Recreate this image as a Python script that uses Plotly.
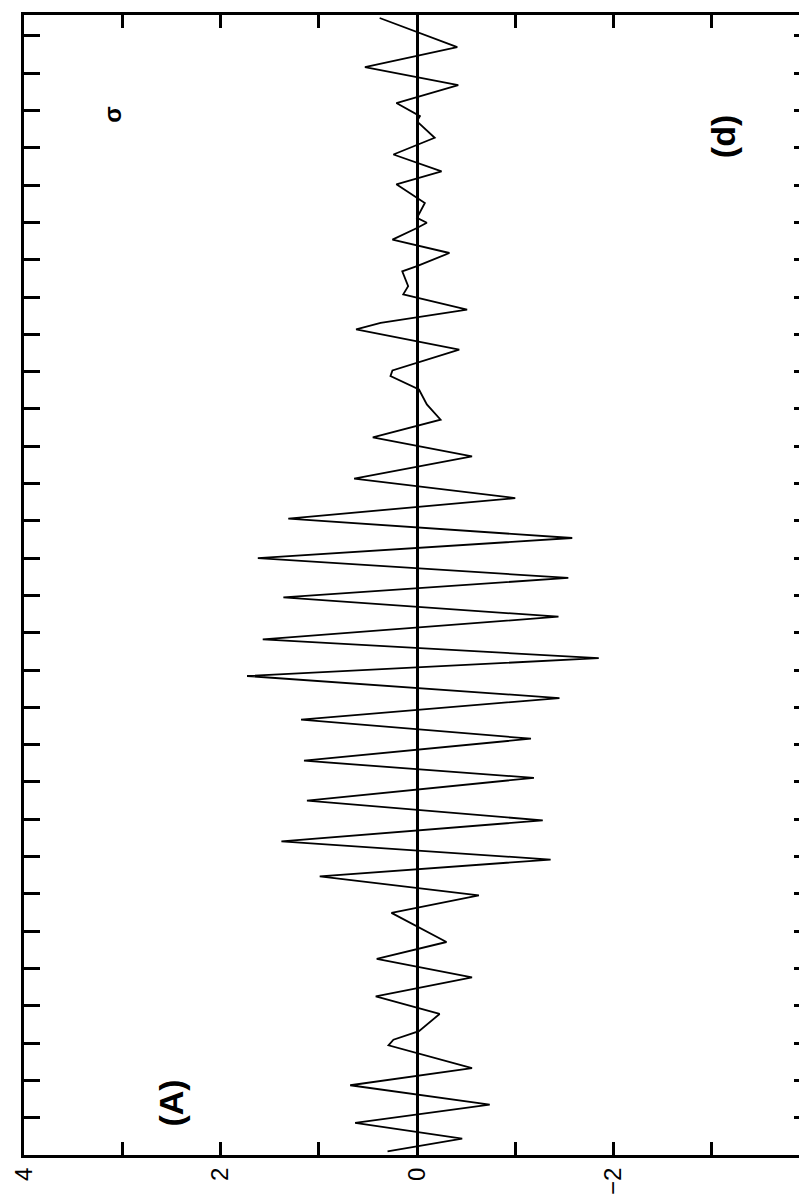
import plotly.graph_objects as go

# time axis (vertical, tick every 1 unit) and signal values (horizontal)
time = [0.10, 0.44, 0.86, 1.35, 1.87, 2.33, 2.94, 3.09, 3.32, 3.78,
        4.25, 4.76, 5.26, 5.71, 6.49, 6.96, 7.47, 7.92, 8.41, 8.97,
        9.50, 10.11, 10.57, 11.16, 11.67, 12.25, 12.84, 13.32, 13.82, 14.43,
        14.95, 15.47, 16.00, 16.54, 17.06, 17.61, 18.13, 18.73, 19.24, 19.71,
        20.12, 20.52, 20.88, 21.03, 21.59, 22.13, 22.31, 22.66, 23.07, 23.29,
        23.69, 23.83, 24.18, 24.54, 24.85, 24.99, 25.12, 25.52, 26.02, 26.37,
        26.82, 27.27, 27.71, 27.85, 28.20, 28.68, 29.16, 29.70, 30.48]
signal = [0.30, -0.46, 0.63, -0.74, 0.68, -0.56, 0.29, 0.24, -0.02, -0.23,
          0.42, -0.56, 0.41, -0.30, 0.26, -0.63, 0.99, -1.36, 1.38, -1.28,
          1.12, -1.19, 1.15, -1.16, 1.18, -1.45, 1.73, -1.85, 1.57, -1.44,
          1.36, -1.54, 1.62, -1.58, 1.31, -1.00, 0.64, -0.56, 0.45, -0.24,
          -0.10, -0.02, 0.27, 0.25, -0.43, 0.62, 0.37, -0.51, 0.14, 0.09,
          0.15, 0.00, -0.33, 0.25, 0.00, -0.10, 0.00, -0.08, 0.21, -0.25,
          0.24, -0.18, 0.00, -0.03, 0.21, -0.42, 0.53, -0.41, 0.38]

value_ticks = [-4, -3, -2, -1, 0, 1, 2, 3, 4]
value_labels = ["\u22124", "", "\u22122", "", "0", "", "2", "", "4"]
time_ticks = list(range(1, 31))

fig = go.Figure()
fig.add_trace(go.Scatter(x=signal, y=time, mode="lines",
                         line=dict(color="black", width=1.8),
                         showlegend=False, hoverinfo="skip"))

fig.update_layout(
    width=807, height=1203, autosize=False,
    margin=dict(l=15, r=2, t=7, b=56),
    paper_bgcolor="white", plot_bgcolor="white",
    font=dict(family="Liberation Sans, Arial, sans-serif", color="black"),
    xaxis=dict(range=[4, -4], tickvals=value_ticks, ticktext=value_labels,
               tickangle=-90, ticks="inside", ticklen=13, tickwidth=3,
               tickcolor="black", showline=True, linecolor="black",
               linewidth=3, mirror="allticks", showgrid=False,
               zeroline=True, zerolinecolor="black", zerolinewidth=3,
               tickfont=dict(size=24, color="black")),
    yaxis=dict(range=[0, 30.56], tickvals=time_ticks, showticklabels=False,
               ticks="inside", ticklen=16, tickwidth=3, tickcolor="black",
               showline=True, linecolor="black", linewidth=3,
               mirror="allticks", showgrid=False, zeroline=False),
    annotations=[
        dict(x=2.5, y=1.39, xref="x", yref="y", text="<b>(A)</b>",
             textangle=-90, showarrow=False,
             font=dict(size=34, family="Liberation Sans Narrow, Liberation Sans, Arial")),
        dict(x=-3.11, y=27.3, xref="x", yref="y", text="<b>(d)</b>",
             textangle=-90, showarrow=False,
             font=dict(size=34, family="Liberation Sans Narrow, Liberation Sans, Arial")),
        dict(x=3.1, y=27.9, xref="x", yref="y", text="<b>\u03c3</b>",
             textangle=-90, showarrow=False, font=dict(size=24)),
    ],
)

fig.write_html("out.html")
